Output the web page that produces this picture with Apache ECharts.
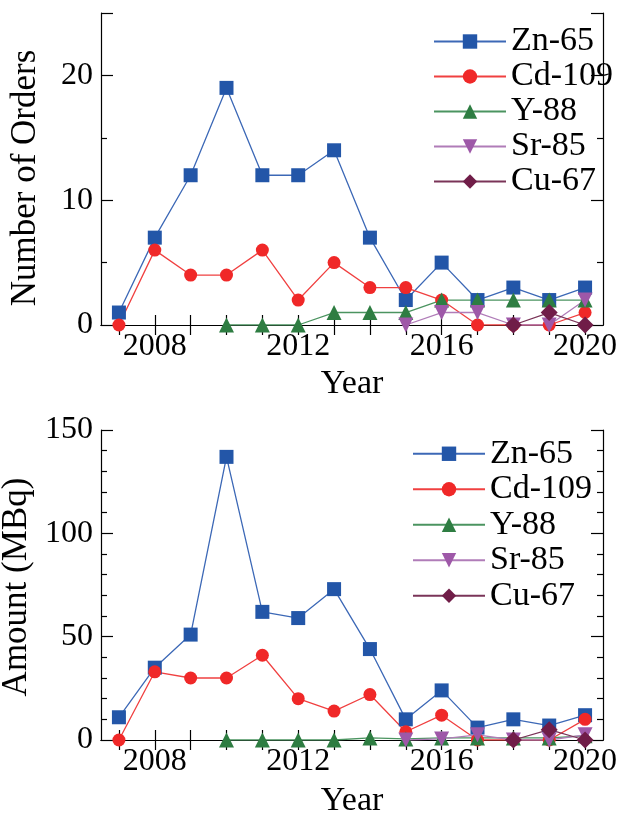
<!DOCTYPE html>
<html>
<head>
<meta charset="utf-8">
<script src="https://cdn.jsdelivr.net/npm/echarts@6/dist/echarts.min.js"></script>
<style>
  html, body { margin: 0; padding: 0; background: #fff; }
  #main { width: 636px; height: 814px; }
</style>
</head>
<body>
<div id="main"></div>
<script>
// years on the x axis
var years = ['2007','2008','2009','2010','2011','2012','2013','2014','2015','2016','2017','2018','2019','2020'];
var seriesNames = ['Zn-65', 'Cd-109', 'Y-88', 'Sr-85', 'Cu-67'];

// number of orders (top panel)
var znOrders = [1, 7, 12, 19, 12, 12, 14, 7, 2, 5, 2, 3, 2, 3];
var cdOrders = [0, 6, 4, 4, 6, 2, 5, 3, 3, 2, 0, 0, 0, 1];
var yOrders  = [null, null, null, 0, 0, 0, 1, 1, 1, 2, 2, 2, 2, 2];
var srOrders = [null, null, null, null, null, null, null, null, 0, 1, 1, 0, 0, 2];
var cuOrders = [null, null, null, null, null, null, null, null, null, null, null, 0, 1, 0];

// amount in MBq (bottom panel)
var znAmount = [11, 35, 51, 137, 62, 59, 73, 44, 10, 24, 6, 10, 7, 12];
var cdAmount = [0, 33, 30, 30, 41, 20, 14, 22, 4, 12, 0, 0, 0, 10];
var yAmount  = [null, null, null, 0, 0, 0, 0, 1, 0.5, 1, 1, 1, 1, 2];
var srAmount = [null, null, null, null, null, null, null, null, 0, 0.5, 2.5, 0, 0, 2.5];
var cuAmount = [null, null, null, null, null, null, null, null, null, null, null, 0, 5, 0];

var font = "'Liberation Serif', 'Times New Roman', serif";

var styles = [
  { symbol: 'rect', size: 14, color: '#2356a8', line: '#3c68b6' },
  { symbol: 'circle', size: 13, color: '#f02828', line: '#f04040' },
  { symbol: 'triangle', size: 15, color: '#2e7d42', line: '#4b9460' },
  { symbol: 'path://M0,0 L10,0 L5,9 Z', size: 15, color: '#9e58a8', line: '#b07cb8' },
  { symbol: 'diamond', size: 17, color: '#701d48', line: '#7a3458' }
];

function mkSeries(name, idx, data, axisIdx) {
  var s = styles[idx];
  return {
    name: name,
    type: 'line',
    xAxisIndex: axisIdx,
    yAxisIndex: axisIdx,
    data: data,
    symbol: s.symbol,
    symbolSize: s.size,
    showAllSymbol: true,
    itemStyle: { color: s.color },
    lineStyle: { color: s.line, width: 1.3 },
    emphasis: { disabled: true },
    animation: false
  };
}

var tickLine = { color: '#000', width: 1.2 };
var frameLine = { color: '#000', width: 1.2 };

function bottomX(gridIdx, name, gap) {
  return {
    type: 'category', gridIndex: gridIdx, position: 'bottom', data: years,
    boundaryGap: true,
    name: name, nameLocation: 'middle', nameGap: gap,
    nameTextStyle: { fontFamily: font, fontSize: 34, color: '#000' },
    axisLine: { show: true, lineStyle: frameLine },
    axisTick: { show: true, inside: true, length: 10, alignWithLabel: true, interval: 0, lineStyle: tickLine },
    axisLabel: {
      fontFamily: font, fontSize: 32, color: '#000', margin: 6,
      interval: function (i, v) { return Number(v) % 4 === 0; }
    },
    splitLine: { show: false }
  };
}

function topX(gridIdx) {
  return {
    type: 'category', gridIndex: gridIdx, position: 'top', data: years,
    boundaryGap: true,
    axisLine: { show: true, lineStyle: frameLine },
    axisTick: { show: true, inside: true, length: 10, alignWithLabel: true, interval: 0, lineStyle: tickLine },
    axisLabel: { show: false },
    splitLine: { show: false }
  };
}

function leftY(gridIdx, name, max, interval, minorSplit, namePad) {
  return {
    type: 'value', gridIndex: gridIdx, position: 'left', min: 0, max: max, interval: interval,
    name: name, nameLocation: 'middle', nameGap: 58,
    nameTextStyle: { fontFamily: font, fontSize: 35, color: '#000', padding: namePad },
    axisLine: { show: true, lineStyle: frameLine },
    axisTick: { show: true, inside: true, length: 12, lineStyle: tickLine },
    minorTick: { show: true, splitNumber: minorSplit, length: 6, lineStyle: tickLine },
    axisLabel: {
      fontFamily: font, fontSize: 32, color: '#000', margin: 8,
      formatter: function (v) { return v % interval === 0 ? String(v) : ''; }
    },
    splitLine: { show: false }
  };
}

function rightY(gridIdx, max, interval, minorSplit) {
  return {
    type: 'value', gridIndex: gridIdx, position: 'right', min: 0, max: max, interval: interval,
    axisLine: { show: true, lineStyle: frameLine },
    axisTick: { show: true, inside: true, length: 12, lineStyle: tickLine },
    minorTick: { show: true, splitNumber: minorSplit, length: 6, lineStyle: tickLine },
    axisLabel: { show: false },
    splitLine: { show: false }
  };
}

function mkLegend(left, topPos, lh) {
  return {
    orient: 'vertical', left: left, top: topPos,
    data: seriesNames,
    itemWidth: 72, itemHeight: 18, itemGap: 0,
    padding: 0,
    textStyle: { fontFamily: font, fontSize: 34, color: '#000', lineHeight: lh },
    selectedMode: false
  };
}

var chart = echarts.init(document.getElementById('main'), null, { renderer: 'canvas' });

var ordersData = [znOrders, cdOrders, yOrders, srOrders, cuOrders];
var amountData = [znAmount, cdAmount, yAmount, srAmount, cuAmount];
var allSeries = [];
// axis 0 = top panel, axis 2 = bottom panel (1 and 3 are the frame axes)
ordersData.forEach(function (d, i) { allSeries.push(mkSeries(seriesNames[i], i, d, 0)); });
amountData.forEach(function (d, i) { allSeries.push(mkSeries(seriesNames[i], i, d, 2)); });

chart.setOption({
  backgroundColor: '#fff',
  animation: false,
  grid: [
    { left: 101, top: 13, width: 502, height: 312, outerBoundsMode: 'none' },
    { left: 101, top: 430, width: 502, height: 310, outerBoundsMode: 'none' }
  ],
  xAxis: [bottomX(0, 'Year', 42), topX(0), bottomX(1, 'Year', 44), topX(1)],
  yAxis: [leftY(0, 'Number of Orders', 25, 10, 2, [0, 18, 0, 0]), rightY(0, 25, 10, 2),
          leftY(1, 'Amount (MBq)', 150, 50, 5, [0, 4, 0, 0]), rightY(1, 150, 50, 5)],
  legend: [mkLegend(433, 24, 35), mkLegend(412, 436, 35.5)],
  series: allSeries
});
</script>
</body>
</html>
